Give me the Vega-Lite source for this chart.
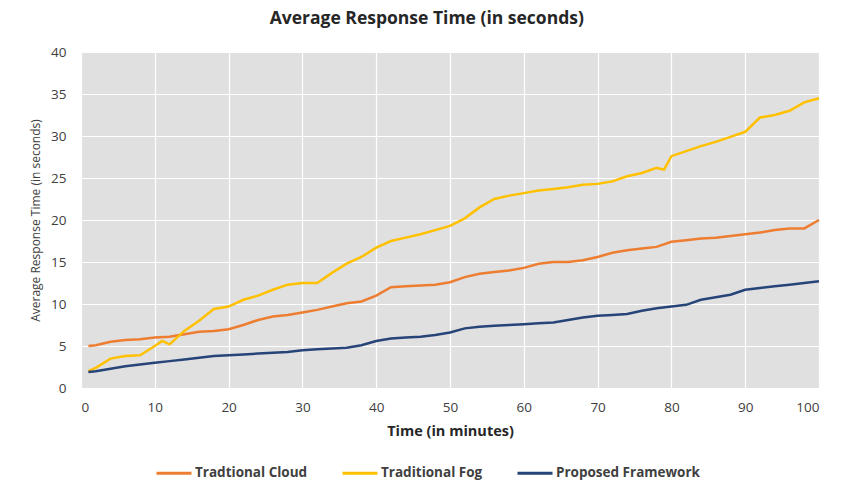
{
  "$schema": "https://vega.github.io/schema/vega-lite/v6.json",
  "width": 738,
  "height": 336,
  "autosize": "none",
  "padding": {"left": 81, "top": 52, "right": 31, "bottom": 105},
  "background": "white",
  "config": {
    "font": "Open Sans",
    "view": {"fill": "#e0e0e0", "stroke": null}
  },
  "title": {"text": "Average Response Time (in seconds)", "fontSize": 17.5, "fontWeight": "bold", "color": "#262626", "offset": 18, "anchor": "middle", "frame": "bounds", "font": "Open Sans"},
  "data": {"values": [
    {"t":1,"s":"Tradtional Cloud","v":5.0},{"t":2,"s":"Tradtional Cloud","v":5.1},{"t":4,"s":"Tradtional Cloud","v":5.5},{"t":6,"s":"Tradtional Cloud","v":5.7},{"t":8,"s":"Tradtional Cloud","v":5.8},{"t":10,"s":"Tradtional Cloud","v":6.0},{"t":12,"s":"Tradtional Cloud","v":6.1},{"t":14,"s":"Tradtional Cloud","v":6.4},{"t":16,"s":"Tradtional Cloud","v":6.7},{"t":18,"s":"Tradtional Cloud","v":6.8},{"t":20,"s":"Tradtional Cloud","v":7.0},{"t":22,"s":"Tradtional Cloud","v":7.5},{"t":24,"s":"Tradtional Cloud","v":8.1},{"t":26,"s":"Tradtional Cloud","v":8.5},{"t":28,"s":"Tradtional Cloud","v":8.7},{"t":30,"s":"Tradtional Cloud","v":9.0},{"t":32,"s":"Tradtional Cloud","v":9.3},{"t":34,"s":"Tradtional Cloud","v":9.7},{"t":36,"s":"Tradtional Cloud","v":10.1},{"t":38,"s":"Tradtional Cloud","v":10.3},{"t":40,"s":"Tradtional Cloud","v":11.0},{"t":42,"s":"Tradtional Cloud","v":12.0},{"t":44,"s":"Tradtional Cloud","v":12.1},{"t":46,"s":"Tradtional Cloud","v":12.2},{"t":48,"s":"Tradtional Cloud","v":12.3},{"t":50,"s":"Tradtional Cloud","v":12.6},{"t":52,"s":"Tradtional Cloud","v":13.2},{"t":54,"s":"Tradtional Cloud","v":13.6},{"t":56,"s":"Tradtional Cloud","v":13.8},{"t":58,"s":"Tradtional Cloud","v":14.0},{"t":60,"s":"Tradtional Cloud","v":14.3},{"t":62,"s":"Tradtional Cloud","v":14.8},{"t":64,"s":"Tradtional Cloud","v":15.0},{"t":66,"s":"Tradtional Cloud","v":15.0},{"t":68,"s":"Tradtional Cloud","v":15.2},{"t":70,"s":"Tradtional Cloud","v":15.6},{"t":72,"s":"Tradtional Cloud","v":16.1},{"t":74,"s":"Tradtional Cloud","v":16.4},{"t":76,"s":"Tradtional Cloud","v":16.6},{"t":78,"s":"Tradtional Cloud","v":16.8},{"t":80,"s":"Tradtional Cloud","v":17.4},{"t":82,"s":"Tradtional Cloud","v":17.6},{"t":84,"s":"Tradtional Cloud","v":17.8},{"t":86,"s":"Tradtional Cloud","v":17.9},{"t":88,"s":"Tradtional Cloud","v":18.1},{"t":90,"s":"Tradtional Cloud","v":18.3},{"t":92,"s":"Tradtional Cloud","v":18.5},{"t":94,"s":"Tradtional Cloud","v":18.8},{"t":96,"s":"Tradtional Cloud","v":19.0},{"t":98,"s":"Tradtional Cloud","v":19.0},{"t":100,"s":"Tradtional Cloud","v":20.0},
    {"t":1,"s":"Traditional Fog","v":2.0},{"t":2,"s":"Traditional Fog","v":2.4},{"t":4,"s":"Traditional Fog","v":3.5},{"t":6,"s":"Traditional Fog","v":3.8},{"t":8,"s":"Traditional Fog","v":3.9},{"t":10,"s":"Traditional Fog","v":5.0},{"t":11,"s":"Traditional Fog","v":5.6},{"t":12,"s":"Traditional Fog","v":5.2},{"t":14,"s":"Traditional Fog","v":6.8},{"t":16,"s":"Traditional Fog","v":8.0},{"t":18,"s":"Traditional Fog","v":9.4},{"t":20,"s":"Traditional Fog","v":9.7},{"t":22,"s":"Traditional Fog","v":10.5},{"t":24,"s":"Traditional Fog","v":11.0},{"t":26,"s":"Traditional Fog","v":11.7},{"t":28,"s":"Traditional Fog","v":12.3},{"t":30,"s":"Traditional Fog","v":12.5},{"t":32,"s":"Traditional Fog","v":12.5},{"t":34,"s":"Traditional Fog","v":13.7},{"t":36,"s":"Traditional Fog","v":14.8},{"t":38,"s":"Traditional Fog","v":15.6},{"t":40,"s":"Traditional Fog","v":16.7},{"t":42,"s":"Traditional Fog","v":17.5},{"t":44,"s":"Traditional Fog","v":17.9},{"t":46,"s":"Traditional Fog","v":18.3},{"t":48,"s":"Traditional Fog","v":18.8},{"t":50,"s":"Traditional Fog","v":19.3},{"t":52,"s":"Traditional Fog","v":20.2},{"t":54,"s":"Traditional Fog","v":21.5},{"t":56,"s":"Traditional Fog","v":22.5},{"t":58,"s":"Traditional Fog","v":22.9},{"t":60,"s":"Traditional Fog","v":23.2},{"t":62,"s":"Traditional Fog","v":23.5},{"t":64,"s":"Traditional Fog","v":23.7},{"t":66,"s":"Traditional Fog","v":23.9},{"t":68,"s":"Traditional Fog","v":24.2},{"t":70,"s":"Traditional Fog","v":24.3},{"t":72,"s":"Traditional Fog","v":24.6},{"t":74,"s":"Traditional Fog","v":25.2},{"t":76,"s":"Traditional Fog","v":25.6},{"t":78,"s":"Traditional Fog","v":26.2},{"t":79,"s":"Traditional Fog","v":26.0},{"t":80,"s":"Traditional Fog","v":27.6},{"t":82,"s":"Traditional Fog","v":28.2},{"t":84,"s":"Traditional Fog","v":28.8},{"t":86,"s":"Traditional Fog","v":29.3},{"t":88,"s":"Traditional Fog","v":29.9},{"t":90,"s":"Traditional Fog","v":30.5},{"t":92,"s":"Traditional Fog","v":32.2},{"t":94,"s":"Traditional Fog","v":32.5},{"t":96,"s":"Traditional Fog","v":33.0},{"t":98,"s":"Traditional Fog","v":34.0},{"t":100,"s":"Traditional Fog","v":34.5},
    {"t":1,"s":"Proposed Framework","v":1.9},{"t":2,"s":"Proposed Framework","v":2.0},{"t":4,"s":"Proposed Framework","v":2.3},{"t":6,"s":"Proposed Framework","v":2.6},{"t":8,"s":"Proposed Framework","v":2.8},{"t":10,"s":"Proposed Framework","v":3.0},{"t":12,"s":"Proposed Framework","v":3.2},{"t":14,"s":"Proposed Framework","v":3.4},{"t":16,"s":"Proposed Framework","v":3.6},{"t":18,"s":"Proposed Framework","v":3.8},{"t":20,"s":"Proposed Framework","v":3.9},{"t":22,"s":"Proposed Framework","v":4.0},{"t":24,"s":"Proposed Framework","v":4.1},{"t":26,"s":"Proposed Framework","v":4.2},{"t":28,"s":"Proposed Framework","v":4.3},{"t":30,"s":"Proposed Framework","v":4.5},{"t":32,"s":"Proposed Framework","v":4.6},{"t":34,"s":"Proposed Framework","v":4.7},{"t":36,"s":"Proposed Framework","v":4.8},{"t":38,"s":"Proposed Framework","v":5.1},{"t":40,"s":"Proposed Framework","v":5.6},{"t":42,"s":"Proposed Framework","v":5.9},{"t":44,"s":"Proposed Framework","v":6.0},{"t":46,"s":"Proposed Framework","v":6.1},{"t":48,"s":"Proposed Framework","v":6.3},{"t":50,"s":"Proposed Framework","v":6.6},{"t":52,"s":"Proposed Framework","v":7.1},{"t":54,"s":"Proposed Framework","v":7.3},{"t":56,"s":"Proposed Framework","v":7.4},{"t":58,"s":"Proposed Framework","v":7.5},{"t":60,"s":"Proposed Framework","v":7.6},{"t":62,"s":"Proposed Framework","v":7.7},{"t":64,"s":"Proposed Framework","v":7.8},{"t":66,"s":"Proposed Framework","v":8.1},{"t":68,"s":"Proposed Framework","v":8.4},{"t":70,"s":"Proposed Framework","v":8.6},{"t":72,"s":"Proposed Framework","v":8.7},{"t":74,"s":"Proposed Framework","v":8.8},{"t":76,"s":"Proposed Framework","v":9.2},{"t":78,"s":"Proposed Framework","v":9.5},{"t":80,"s":"Proposed Framework","v":9.7},{"t":82,"s":"Proposed Framework","v":9.9},{"t":84,"s":"Proposed Framework","v":10.5},{"t":86,"s":"Proposed Framework","v":10.8},{"t":88,"s":"Proposed Framework","v":11.1},{"t":90,"s":"Proposed Framework","v":11.7},{"t":92,"s":"Proposed Framework","v":11.9},{"t":94,"s":"Proposed Framework","v":12.1},{"t":96,"s":"Proposed Framework","v":12.3},{"t":98,"s":"Proposed Framework","v":12.5},{"t":100,"s":"Proposed Framework","v":12.7}
  ]},
  "mark": {"type": "line", "strokeWidth": 2.5},
  "encoding": {
    "x": {
      "field": "t", "type": "quantitative",
      "scale": {"domain": [0, 100], "nice": false},
      "axis": {"values": [0,10,20,30,40,50,60,70,80,90,100], "title": "Time (in minutes)", "titleFontSize": 14.5, "titleFontWeight": "bold", "titleColor": "#262626", "titlePadding": 11, "labelFontSize": 13.5, "labelColor": "#404040", "labelPadding": 12, "domain": false, "ticks": false, "grid": true, "gridColor": "white", "gridWidth": 1.2}
    },
    "y": {
      "field": "v", "type": "quantitative",
      "scale": {"domain": [0, 40], "nice": false},
      "axis": {"values": [0,5,10,15,20,25,30,35,40], "title": "Average Response Time (in seconds)", "titleFontSize": 12, "titleFontWeight": "normal", "titleColor": "#404040", "titlePadding": 8, "labelFontSize": 13.5, "labelColor": "#404040", "labelPadding": 15, "domain": false, "ticks": false, "grid": true, "gridColor": "white", "gridWidth": 1.2}
    },
    "color": {
      "field": "s", "type": "nominal",
      "scale": {"domain": ["Tradtional Cloud", "Traditional Fog", "Proposed Framework"], "range": ["#ED7D31", "#FFC000", "#264478"]},
      "sort": ["Tradtional Cloud", "Traditional Fog", "Proposed Framework"],
      "legend": {"orient": "none", "legendX": 74, "legendY": 402, "direction": "horizontal", "title": null, "symbolType": "stroke", "symbolStrokeWidth": 3, "symbolSize": 1225, "labelOffset": 2, "labelFontSize": 13.5, "labelFontWeight": "bold", "labelColor": "#404040", "columnPadding": 28, "labelLimit": 300, "padding": 0}
    }
  }
}
